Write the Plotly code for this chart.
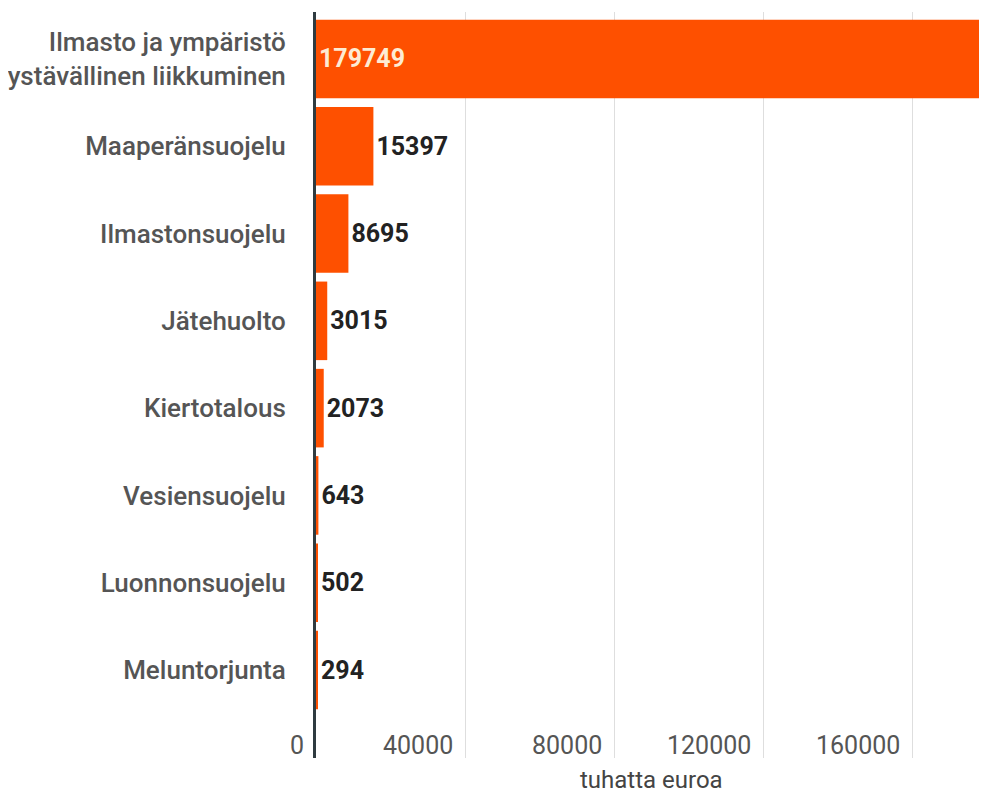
import plotly.graph_objects as go

categories = [
    "Ilmasto ja ympäristö<br>ystävällinen liikkuminen",
    "Maaperänsuojelu",
    "Ilmastonsuojelu",
    "Jätehuolto",
    "Kiertotalous",
    "Vesiensuojelu",
    "Luonnonsuojelu",
    "Meluntorjunta",
]
values = [179749, 15397, 8695, 3015, 2073, 643, 502, 294]
tick_vals = [0, 40000, 80000, 120000, 160000]
tick_labels = ["0", "40000", "80000", "120000", "160000"]
axis_title = "tuhatta euroa"

FONT = "Roboto"
BAR = "#fe5000"

textpos = ["inside"] + ["outside"] * (len(values) - 1)

fig = go.Figure(
    go.Bar(
        x=values,
        y=list(range(len(categories))),
        orientation="h",
        marker=dict(color=BAR, line=dict(width=0)),
        width=0.9,
        text=[str(v) for v in values],
        textposition=textpos,
        insidetextanchor="start",
        textangle=0,
        constraintext="none",
        cliponaxis=False,
        insidetextfont=dict(family=FONT, size=25, color="#fdebd3", weight=700),
        outsidetextfont=dict(family=FONT, size=25, color="#222222", weight=700),
    )
)

annotations = []
for v, t in zip(tick_vals, tick_labels):
    annotations.append(
        dict(
            x=v, y=0, xref="x", yref="paper",
            text=t, showarrow=False,
            xanchor="right", yanchor="middle",
            xshift=-10, yshift=13,
            font=dict(family=FONT, size=25, color="#555555"),
        )
    )
annotations.append(
    dict(
        x=0.5, y=0, xref="paper", yref="paper",
        text=axis_title, showarrow=False,
        xanchor="center", yanchor="middle",
        yshift=-22,
        font=dict(family=FONT, size=24, color="#444444"),
    )
)

# the page body adds an 8px offset, so the figure is sized to end at the window edge
fig.update_layout(
    width=979,
    height=790,
    margin=dict(l=302, r=0, t=4, b=40, pad=0),
    paper_bgcolor="white",
    plot_bgcolor="white",
    showlegend=False,
    annotations=annotations,
    xaxis=dict(
        range=[0, 180000],
        tickvals=tick_vals,
        showticklabels=False,
        showgrid=True,
        gridcolor="#dedede",
        gridwidth=1,
        zeroline=False,
        showline=False,
        fixedrange=True,
    ),
    yaxis=dict(
        range=[8.008, -0.538],
        tickvals=list(range(len(categories))),
        ticktext=categories,
        showgrid=False,
        zeroline=False,
        showline=True,
        linecolor="#2f3b40",
        linewidth=3,
        ticks="",
        ticklabelstandoff=22,
        tickfont=dict(family=FONT, size=26, color="#555555", weight=500),
        fixedrange=True,
    ),
)

fig.write_html("out.html")
